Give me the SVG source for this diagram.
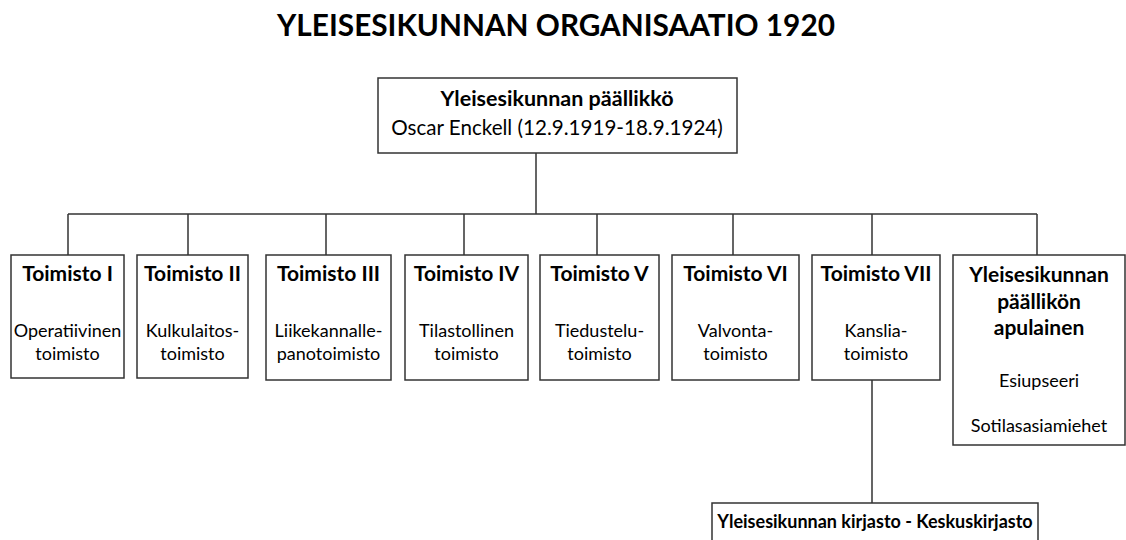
<svg xmlns="http://www.w3.org/2000/svg" width="1126" height="540" viewBox="0 0 1126 540">
<style>
.box{fill:#fff;stroke:#333;stroke-width:1.5}
.ln{stroke:#333;stroke-width:1.5;fill:none}
text{font-family:Lato,"Open Sans",sans-serif;fill:#000;text-anchor:middle}
.t{font-weight:bold;font-size:21px}
.s{font-size:18px}
.title{font-weight:bold;font-size:29.8px}
</style>
<rect width="1126" height="540" fill="#fff"/>
<text class="title" x="556" y="36">YLEISESIKUNNAN ORGANISAATIO 1920</text>
<g id="connectors">
<path class="ln" d="M536 153V214M68 214H1037M68 214V255M188 214V255M326 214V255M464 214V255M597 214V255M733 214V255M872 214V255M1037 214V255M872 380V503"/>
</g>
<g id="chief">
<rect class="box" x="378" y="78" width="359" height="75"/>
<text class="t" x="557" y="106" style="font-size:21.5px">Yleisesikunnan päällikkö</text>
<text x="557" y="135" style="font-size:20.6px">Oscar Enckell (12.9.1919-18.9.1924)</text>
</g>
<g id="t1">
<rect class="box" x="11" y="255" width="113" height="123"/>
<text class="t" x="67.5" y="281">Toimisto I</text>
<text class="s" x="67.5" y="337">Operatiivinen</text>
<text class="s" x="67.5" y="360">toimisto</text>
</g>
<g id="t2">
<rect class="box" x="137" y="255" width="111" height="123"/>
<text class="t" x="192.5" y="281">Toimisto II</text>
<text class="s" x="192.5" y="337">Kulkulaitos-</text>
<text class="s" x="192.5" y="360">toimisto</text>
</g>
<g id="t3">
<rect class="box" x="266" y="255" width="125" height="125"/>
<text class="t" x="328.5" y="281">Toimisto III</text>
<text class="s" x="328.5" y="337">Liikekannalle-</text>
<text class="s" x="328.5" y="360">panotoimisto</text>
</g>
<g id="t4">
<rect class="box" x="405" y="255" width="123" height="125"/>
<text class="t" x="466.5" y="281">Toimisto IV</text>
<text class="s" x="466.5" y="337">Tilastollinen</text>
<text class="s" x="466.5" y="360">toimisto</text>
</g>
<g id="t5">
<rect class="box" x="540" y="255" width="119" height="125"/>
<text class="t" x="599.5" y="281">Toimisto V</text>
<text class="s" x="599.5" y="337">Tiedustelu-</text>
<text class="s" x="599.5" y="360">toimisto</text>
</g>
<g id="t6">
<rect class="box" x="672" y="255" width="127" height="125"/>
<text class="t" x="735.5" y="281">Toimisto VI</text>
<text class="s" x="735.5" y="337">Valvonta-</text>
<text class="s" x="735.5" y="360">toimisto</text>
</g>
<g id="t7">
<rect class="box" x="812" y="255" width="128" height="125"/>
<text class="t" x="876" y="281">Toimisto VII</text>
<text class="s" x="876" y="337">Kanslia-</text>
<text class="s" x="876" y="360">toimisto</text>
</g>
<g id="apulainen">
<rect class="box" x="953" y="255" width="172" height="190"/>
<text class="t" x="1039" y="282">Yleisesikunnan</text>
<text class="t" x="1039" y="309">päällikön</text>
<text class="t" x="1039" y="335">apulainen</text>
<text class="s" x="1039" y="387">Esiupseeri</text>
<text class="s" x="1039" y="432">Sotilasasiamiehet</text>
</g>
<g id="kirjasto">
<rect class="box" x="712" y="503" width="326" height="50"/>
<text class="t" x="875" y="528" style="font-size:18px">Yleisesikunnan kirjasto - Keskuskirjasto</text>
</g>
</svg>
